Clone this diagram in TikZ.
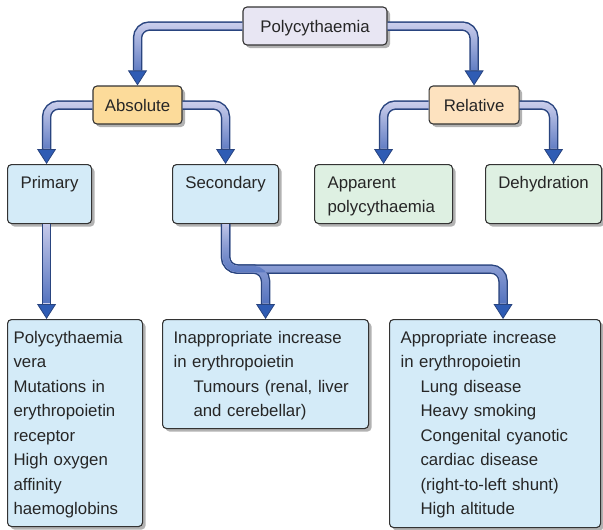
\documentclass[tikz,border=0pt]{standalone}
\usepackage{fontspec}
\setmainfont{Liberation Sans}
\usetikzlibrary{positioning, arrows.meta, shadows, fadings}

\definecolor{polyfill}{HTML}{E8E6F3}
\definecolor{absfill}{HTML}{FCDB9A}
\definecolor{relfill}{HTML}{FDE2BF}
\definecolor{bluefill}{HTML}{D4EBF8}
\definecolor{greenfill}{HTML}{DEF0E2}
\definecolor{boxedge}{HTML}{333333}
\definecolor{pipeedge}{HTML}{29447F}
\definecolor{pipelight}{HTML}{CBCEEC}
\definecolor{pipeblue}{HTML}{3A5FB5}
\definecolor{arrowfill}{HTML}{2F5CB4}

\tikzfading[name=pipefade, top color=transparent!100, bottom color=transparent!0]

\newcommand{\causeindent}{\hspace*{20pt}}

\tikzset{
box/.style={draw=boxedge, line width=1.1pt, rounded corners=4pt, inner sep=0pt, text=black!85,
  text height=12pt, font=\fontsize{16.8pt}{24.5pt}\selectfont,
  drop shadow={shadow xshift=3pt, shadow yshift=-3pt, fill=black, opacity=0.3}}, % every box casts a shadow
head/.style={box, minimum height=38pt, text depth=0pt}, % the three upper boxes
leaf/.style={box, inner xsep=6pt, inner ysep=11.5pt, text depth=24pt, align=center, anchor=north west},
info/.style={box, fill=bluefill, inner xsep=11pt, inner ysep=11.5pt, align=left, anchor=north west},
tube/.style={line width=9.5pt, draw=pipeedge, rounded corners=12pt,
  -{Triangle[width=19pt, length=15pt, fill=arrowfill, color=pipeedge, line width=0.8pt]}}, % dark rim + head
core/.style={arrows=-, line width=6.5pt, draw=pipelight, rounded corners=12pt, shorten >=15.5pt},
glow/.style={core, draw=pipeblue, path fading=pipefade}, % gets bluer towards the head
pipe/.style={tube, postaction={core}, postaction={glow}},
}

\begin{document}
\begin{tikzpicture}[x=1pt, y=-1pt]
        \useasboundingbox (0,0) rectangle (603,530);

        % Upper levels
        \node[head, fill=polyfill, minimum width=144pt] (poly) at (315,26) {Polycythaemia};
        \node[head, fill=absfill, minimum width=89pt] (abs) at (137.5,105) {Absolute};
        \node[head, fill=relfill, minimum width=90pt, right=246pt of abs] (rel) {Relative};

        % Kinds
        \node[leaf, fill=bluefill, text width=72pt] (prim) at (7,164) {Primary};
        \node[leaf, fill=bluefill, text width=94pt] (sec) at (172,164) {Secondary};
        \node[leaf, fill=greenfill, text width=112pt, inner xsep=13pt, align=left] (app) at (314,164) {Apparent\\polycythaemia};
        \node[leaf, fill=greenfill, text width=104pt] (deh) at (485,164) {Dehydration};

        % Causes
        \node[info, text width=123pt, inner xsep=6pt, text depth=172pt] (vera) at (7,319)
            {Polycythaemia\\vera\\Mutations in\\erythropoietin\\receptor\\High oxygen\\affinity\\haemoglobins};
        \node[info, text width=184pt, text depth=74pt] (inapp) at (162,319)
            {Inappropriate increase\\in erythropoietin\\\causeindent Tumours (renal, liver\\\causeindent and cerebellar)};
        \node[info, text width=189pt, text depth=173pt] (appr) at (389,319)
            {Appropriate increase\\in erythropoietin\\\causeindent Lung disease\\\causeindent Heavy smoking\\\causeindent Congenital cyanotic\\\causeindent cardiac disease\\\causeindent (right-to-left shunt)\\\causeindent High altitude};

        % Pipes
        \draw[pipe] (poly.west) -| (abs.north);
        \draw[pipe] (poly.east) -| (rel.north);
        \draw[pipe] (abs.west) -| ([xshift=-3pt]prim.north);
        \draw[pipe] (abs.east) -| (sec.north);
        \draw[pipe] (rel.west) -| (app.north);
        \draw[pipe] (rel.east) -| ([xshift=10pt]deh.north);
        \draw[pipe] ([xshift=-3pt]prim.south) -- ([xshift=-3pt]prim.south |- vera.north);

        % Secondary splits in two
        \coordinate[below=45pt of sec.south] (split);
        \foreach \lay in {tube, core, glow} {
            \draw[\lay] (sec.south) -- (split) -| ([xshift=8pt]appr.north);
            \draw[\lay] (sec.south) -- (split) -| (inapp.north);
        }
    \end{tikzpicture}
\end{document}
